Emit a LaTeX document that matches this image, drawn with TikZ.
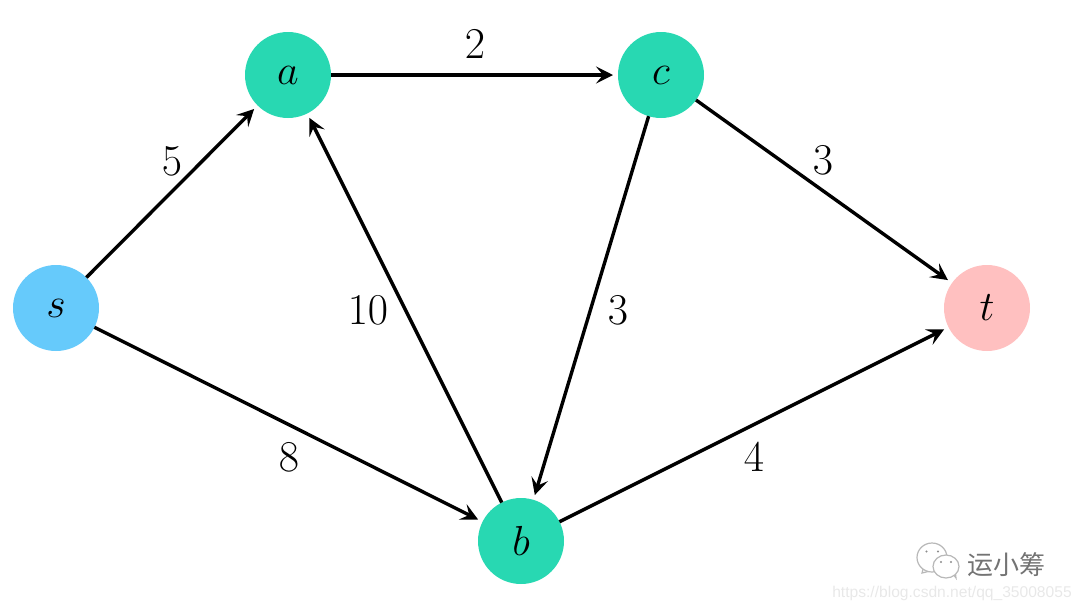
\documentclass[tikz,border=0pt]{standalone}
\usepackage{fix-cm}
\usepackage{fontspec}
\newfontfamily\cjkfont{Noto Sans CJK SC}
\newfontfamily\urlfont{Liberation Sans}
\usetikzlibrary{arrows.meta}
\definecolor{inner}{HTML}{28D8B2}
\definecolor{source}{HTML}{66CAFB}
\definecolor{sink}{HTML}{FFC0C0}
\begin{document}
\begin{tikzpicture}[x=1pt,y=-1pt]

    \tikzset{
      vertex/.style={
        circle,
        inner sep=0pt,
        outer sep=0pt,
        minimum size=86pt,
        font=\fontsize{42}{42}\selectfont,
      },
      weight/.style={
        inner sep=0pt,
        font=\fontsize{44}{44}\selectfont,
      },
      edge/.style={
        color=black,
        line width=3.4pt,
        shorten >=5pt,
        -{Stealth[length=17pt,width=17pt,inset=7pt]},
      },
      mark text/.style={
        inner sep=0pt,
        color=black!55,
        font=\cjkfont\fontsize{26}{26}\selectfont,
      },
      bubble/.style={
        draw=black!28,
        fill=white,
        line width=1.2pt,
      },
      eye/.style={
        fill=black!45,
      },
    }
    \useasboundingbox (0,0) rectangle (1080,611);

    % vertices
    \node[vertex,fill=source] (s) at (56,308) {$s$};
    \node[vertex,fill=inner] (a) at (288,75) {$a$};
    \node[vertex,fill=inner] (c) at (661,75) {$c$};
    \node[vertex,fill=inner] (b) at (521,541) {$b$};
    \node[vertex,fill=sink] (t) at (987,308) {$t$};

    % arcs
    \draw[edge] (s)--(a);
    \draw[edge] (s)--(b);
    \draw[edge] (a)--(c);
    \draw[edge] (b)--(a);
    \draw[edge] (c)--(b);
    \draw[edge] (c)--(t);
    \draw[edge] (b)--(t);

    % capacities
    \node[weight] (wsa) at (172,161) {$5$};
    \node[weight] (wac) at (475,44) {$2$};
    \node[weight] (wct) at (823,160) {$3$};
    \node[weight] (wba) at (368,310) {$10$};
    \node[weight] (wcb) at (618,310) {$3$};
    \node[weight] (wsb) at (289,457) {$8$};
    \node[weight] (wbt) at (754,457) {$4$};

    % corner mark, two speech bubbles with tails
    \draw[bubble] (923,569)--(922,573)--(930,571);
    \draw[bubble] (932,557.5) ellipse (15pt and 14.5pt);
    \draw[bubble] (953,574)--(956,578)--(955,570);
    \draw[bubble] (946,566.5) ellipse (13pt and 11.5pt);
    \fill[eye] (926.5,551.5) circle (1.2pt) (938,551.5) circle (1.2pt);
    \fill[eye] (941,562) circle (1.2pt) (951,562) circle (1.2pt);
    \node[mark text] (mark) at (1006,565) {运小筹};
    \node[inner sep=0pt,color=black!9,font=\urlfont\fontsize{15.6}{15.6}\selectfont] (link) at (952,593) {https://blog.csdn.net/qq\_35008055};

\end{tikzpicture}
\end{document}
